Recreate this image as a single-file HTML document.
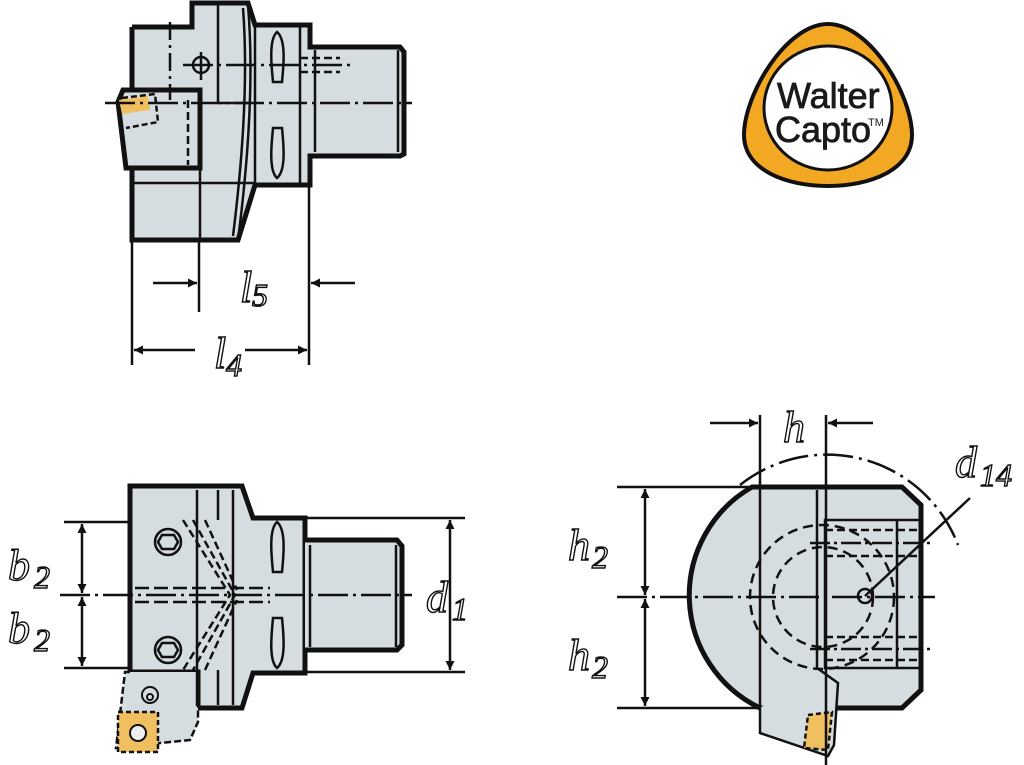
<!DOCTYPE html>
<html><head><meta charset="utf-8"><style>
html,body{margin:0;padding:0;background:#fff;}
svg{display:block;}
.lbl{font-family:"Liberation Serif",serif;font-style:italic;fill:#fff;stroke:#111;stroke-width:1.4;}
</style></head><body>
<svg width="1024" height="765" viewBox="0 0 1024 765" xmlns="http://www.w3.org/2000/svg">
<defs>
<marker id="ar" viewBox="0 0 10 10" refX="10" refY="5" markerWidth="16" markerHeight="9" markerUnits="userSpaceOnUse" orient="auto-start-reverse"><path d="M0,0 L10,5 L0,10 z" fill="#111"/></marker>
</defs>
<g stroke="#111" fill="none">
<!-- ============ TOP VIEW ============ -->
<path d="M132,27 L192,27 L192,3 L248,3 L255,25 L310,25 L310,47 L400,47 L404,52 L404,154 L400,156 L310,156 L310,185 L255,185 L238,240 L132,240 L132,168" fill="#d6dde0" stroke-width="5"/>
<path d="M132,27 L132,90" stroke-width="5"/>
<path d="M123,90 L200,90 L200,168 L126,168 L118,102 Z" fill="#d6dde0" stroke-width="5"/>
<path d="M119,100 L148,96 L150,110 L122,114 Z" fill="#f0c060" stroke="none"/>
<path d="M122,98 L155,94 L158,122 L126,128" stroke-width="2.5" stroke-dasharray="6,3"/>
<path d="M188,100 L188,165" stroke-width="2.5" stroke-dasharray="8,4"/>
<g stroke-width="2.5">
<line x1="218" y1="5" x2="218" y2="103"/>
<line x1="218" y1="103" x2="250" y2="103"/>
<path d="M248,5 Q256,100 238,240" />
<path d="M243,8 Q250,100 233,236" />
<line x1="255" y1="25" x2="255" y2="185"/>
<line x1="300" y1="25" x2="300" y2="185"/>
<line x1="132" y1="183" x2="255" y2="183"/>
<line x1="200" y1="168" x2="200" y2="240"/>
<line x1="398" y1="50" x2="398" y2="152"/>
<line x1="315" y1="50" x2="315" y2="152"/>
<line x1="105" y1="103" x2="412" y2="103" stroke-dasharray="30,5,3,5"/>
<line x1="170" y1="22" x2="170" y2="100" stroke-dasharray="18,5,3,5"/>
<line x1="183" y1="65" x2="350" y2="65" stroke-dasharray="30,5,3,5"/>
<circle cx="201" cy="65" r="8"/>
<line x1="201" y1="52" x2="201" y2="80"/>
<line x1="300" y1="58" x2="340" y2="58" stroke-dasharray="8,4"/>
<line x1="300" y1="72" x2="340" y2="72" stroke-dasharray="8,4"/>
<path d="M277,32 C268,40 272,70 273,82 L282,82 C283,70 287,40 277,32 Z"/>
<path d="M277,178 C268,170 272,140 273,128 L282,128 C283,140 287,170 277,178 Z"/>
<!-- dims -->
<line x1="132" y1="242" x2="132" y2="365"/>
<line x1="199" y1="242" x2="199" y2="312"/>
<line x1="309" y1="187" x2="309" y2="365"/>
<line x1="153" y1="283" x2="197" y2="283" marker-end="url(#ar)"/>
<line x1="355" y1="283" x2="311" y2="283" marker-end="url(#ar)"/>
<line x1="195" y1="350" x2="134" y2="350" marker-end="url(#ar)"/>
<line x1="245" y1="350" x2="307" y2="350" marker-end="url(#ar)"/>
</g>
<!-- ============ BOTTOM LEFT VIEW ============ -->
<path d="M130,486 L242,486 L253,518 L305,518 L305,673 L253,673 L242,708 L198,708 L198,672 L130,672 Z" fill="#d6dde0" stroke-width="5"/>
<path d="M305,540 L397,540 L402,546 L402,645 L397,650 L305,650" fill="#d6dde0" stroke-width="5"/>
<path d="M130,672 L125,672 L116,748 L160,743 L190,740 L198,722 L198,672" fill="#d6dde0" stroke-width="2.5" stroke-dasharray="7,3"/>
<path d="M118,712 L158,712 L158,752 L118,752 Z" fill="#f0c060" stroke-width="2.5" stroke-dasharray="5,3"/>
<circle cx="138" cy="733" r="8" fill="#eee" stroke-width="2"/>
<circle cx="150" cy="695" r="8" stroke-width="2"/>
<circle cx="150" cy="697" r="3" stroke-width="2"/>
<g stroke-width="2.5">
<line x1="197" y1="490" x2="197" y2="706"/>
<line x1="233" y1="490" x2="233" y2="705"/>
<line x1="218" y1="490" x2="218" y2="520"/>
<line x1="218" y1="670" x2="218" y2="705"/>
<line x1="310" y1="545" x2="310" y2="647"/>
<line x1="396" y1="545" x2="396" y2="647"/>
<circle cx="168" cy="542" r="13"/><path d="M162,535 L174,535 L178,542 L174,549 L162,549 L158,542 Z"/>
<circle cx="168" cy="650" r="13"/><path d="M162,643 L174,643 L178,650 L174,657 L162,657 L158,650 Z"/>
<path d="M183,520 L230,595 L183,670" stroke-dasharray="8,4"/>
<path d="M193,520 L235,595 L193,670" stroke-dasharray="8,4"/>
<path d="M205,520 L237,590" stroke-dasharray="8,4"/>
<path d="M205,670 L237,600" stroke-dasharray="8,4"/>
<line x1="135" y1="588" x2="270" y2="588" stroke-dasharray="14,5"/>
<line x1="135" y1="602" x2="270" y2="602" stroke-dasharray="14,5"/>
<line x1="60" y1="595" x2="412" y2="595" stroke-dasharray="30,5,3,5"/>
<path d="M277,522 C268,530 272,560 273,572 L282,572 C283,560 287,530 277,522 Z"/>
<path d="M277,668 C268,660 272,630 273,618 L282,618 C283,630 287,660 277,668 Z"/>
<line x1="64" y1="522" x2="130" y2="522"/>
<line x1="305" y1="518" x2="465" y2="518"/>
<line x1="64" y1="668" x2="130" y2="668"/>
<line x1="305" y1="672" x2="465" y2="672"/>
<line x1="82" y1="560" x2="82" y2="524" marker-end="url(#ar)"/>
<line x1="82" y1="560" x2="82" y2="593" marker-end="url(#ar)"/>
<line x1="82" y1="632" x2="82" y2="597" marker-end="url(#ar)"/>
<line x1="82" y1="632" x2="82" y2="666" marker-end="url(#ar)"/>
<line x1="450" y1="595" x2="450" y2="520" marker-end="url(#ar)"/>
<line x1="450" y1="595" x2="450" y2="670" marker-end="url(#ar)"/>
</g>
<!-- ============ BOTTOM RIGHT VIEW ============ -->
<path d="M752,487 L902,487 L921,505 L921,690 L902,708 L760,708 A125,125 0 0 1 752,487 Z" fill="#d6dde0" stroke-width="5"/>
<path d="M760,708 L760,733 L828,756 L834,745 L838,683 L817,668" fill="#d6dde0" stroke-width="2.5"/>
<path d="M808,715 L832,712 L828,750 L804,748 Z" fill="#f0c060" stroke-width="2.5" stroke-dasharray="5,3"/>
<g stroke-width="2.5">
<line x1="817" y1="490" x2="817" y2="668"/>
<line x1="760" y1="415" x2="760" y2="708"/>
<line x1="826" y1="415" x2="826" y2="765"/>
<rect x="825" y="520" width="96" height="148"/>
<line x1="897" y1="520" x2="897" y2="668"/>
<line x1="825" y1="530" x2="921" y2="530" stroke-dasharray="8,4"/>
<line x1="825" y1="556" x2="921" y2="556" stroke-dasharray="8,4"/>
<line x1="825" y1="637" x2="921" y2="637" stroke-dasharray="8,4"/>
<line x1="825" y1="660" x2="921" y2="660" stroke-dasharray="8,4"/>
<line x1="810" y1="543" x2="930" y2="543" stroke-dasharray="20,4,3,4"/>
<line x1="810" y1="649" x2="930" y2="649" stroke-dasharray="20,4,3,4"/>
<circle cx="822" cy="597" r="72" stroke-dasharray="10,6"/>
<circle cx="823" cy="597" r="50" stroke-dasharray="10,6"/>
<circle cx="865" cy="596" r="7"/>
<line x1="617" y1="597" x2="935" y2="597" stroke-dasharray="30,5,3,5"/>
<path d="M740,485 A140,140 0 0 1 958,545" stroke-dasharray="30,6,3,6"/>
<line x1="865" y1="596" x2="970" y2="498"/>
<line x1="617" y1="487" x2="752" y2="487"/>
<line x1="617" y1="708" x2="760" y2="708"/>
<line x1="645" y1="540" x2="645" y2="489" marker-end="url(#ar)"/>
<line x1="645" y1="540" x2="645" y2="595" marker-end="url(#ar)"/>
<line x1="645" y1="650" x2="645" y2="599" marker-end="url(#ar)"/>
<line x1="645" y1="650" x2="645" y2="706" marker-end="url(#ar)"/>
<line x1="710" y1="423" x2="758" y2="423" marker-end="url(#ar)"/>
<line x1="873" y1="423" x2="828" y2="423" marker-end="url(#ar)"/>
</g>
</g>
<!-- labels -->
<text class="lbl" x="240" y="302" font-size="44">l</text><text class="lbl" x="252" y="306" font-size="32">5</text>
<text class="lbl" x="214" y="368" font-size="44">l</text><text class="lbl" x="226" y="376" font-size="32">4</text>
<text class="lbl" x="8" y="580" font-size="44">b</text><text class="lbl" x="34" y="588" font-size="32">2</text>
<text class="lbl" x="8" y="643" font-size="44">b</text><text class="lbl" x="34" y="651" font-size="32">2</text>
<text class="lbl" x="426" y="612" font-size="44">d</text><text class="lbl" x="452" y="620" font-size="32">1</text>
<text class="lbl" x="568" y="560" font-size="44">h</text><text class="lbl" x="592" y="568" font-size="32">2</text>
<text class="lbl" x="568" y="670" font-size="44">h</text><text class="lbl" x="592" y="678" font-size="32">2</text>
<text class="lbl" x="783" y="442" font-size="44">h</text>
<text class="lbl" x="955" y="477" font-size="44">d</text><text class="lbl" x="980" y="486" font-size="32">14</text>
<!-- logo -->
<path d="M828,24 C870,24 912,95 912,135 C912,170 870,186 828,186 C786,186 744,170 744,135 C744,95 786,24 828,24 Z" fill="#f3a823" stroke="#111" stroke-width="4"/>
<ellipse cx="828" cy="108" rx="64" ry="62" fill="#fff" stroke="#111" stroke-width="3"/>
<text x="777" y="108" font-family="Liberation Sans, sans-serif" font-size="36" fill="#1a1a1a" stroke="#1a1a1a" stroke-width="0.8">Walter</text>
<text x="775" y="142" font-family="Liberation Sans, sans-serif" font-size="36" fill="#1a1a1a" stroke="#1a1a1a" stroke-width="0.8">Capto</text>
<text x="868" y="126" font-family="Liberation Sans, sans-serif" font-size="11" fill="#1a1a1a">TM</text>
</svg>
</body></html>
